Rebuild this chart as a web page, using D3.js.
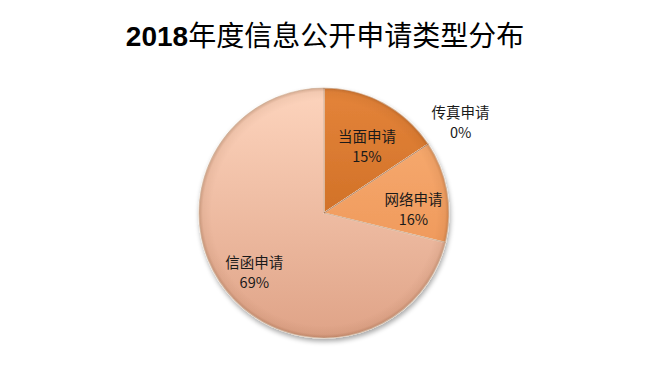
<!DOCTYPE html>
<html>

<head>
  <meta charset="utf-8">
  <title>2018年度信息公开申请类型分布</title>
  <style>
    body,
    html {
      margin: 0;
      padding: 0;
      background: #fff;
    }

    text {
      font-family: "Noto Sans CJK SC", "DejaVu Sans", sans-serif;
    }
  </style>
</head>

<body>

  <svg id="svg" width="650" height="378"></svg>

  <script src="https://d3js.org/d3.v7.min.js"></script>

  <script>
    // values; labels as printed on the chart
    const categories = ['当面申请', '传真申请', '网络申请', '信函申请']
    const values = [15.7, 0, 13.1, 71.2]
    const pctLabels = ['15%', '0%', '16%', '69%']

    const cx = 324
    const cy = 213
    const radius = 125

    // colour stops per slice: top, bottom
    const colors = [
      ['#e4843a', '#bf5f16'],
      ['#f0a060', '#d07a3a'],
      ['#f9b077', '#ea8d4c'],
      ['#fdd4bd', '#dfa387']
    ]
    // label radius (fraction of pie radius) and nudges
    const labelR = [0.64, 1.31, 0.71, 0.77]
    const labelNudge = [[5, 4], [0, 0], [2, 12], [6, 0]]

    const svg = d3.select('#svg')
    const defs = svg.append('defs')

    // gradients live in the pie group's coordinates (centre at 0,0)
    colors.forEach((c, i) => {
      const g = defs.append('linearGradient')
        .attr('id', 'grad' + i)
        .attr('gradientUnits', 'userSpaceOnUse')
        .attr('x1', 0).attr('y1', -radius)
        .attr('x2', 0).attr('y2', radius)
      g.append('stop').attr('offset', '0%').attr('stop-color', c[0])
      g.append('stop').attr('offset', '100%').attr('stop-color', c[1])
    })

    // soft rim shading
    const rim = defs.append('radialGradient')
      .attr('id', 'rim')
      .attr('gradientUnits', 'userSpaceOnUse')
      .attr('cx', 0).attr('cy', 0).attr('r', radius)
    rim.append('stop').attr('offset', '90%').attr('stop-color', '#5a2a08').attr('stop-opacity', 0)
    rim.append('stop').attr('offset', '97%').attr('stop-color', '#5a2a08').attr('stop-opacity', 0.06)
    rim.append('stop').attr('offset', '100%').attr('stop-color', '#5a2a08').attr('stop-opacity', 0.25)

    const shadow = defs.append('filter').attr('id', 'shadow')
      .attr('x', '-20%').attr('y', '-20%').attr('width', '140%').attr('height', '140%')
    shadow.append('feGaussianBlur').attr('in', 'SourceAlpha').attr('stdDeviation', 2.5)
    shadow.append('feOffset').attr('dx', 1).attr('dy', 3).attr('result', 'b')
    shadow.append('feComponentTransfer').append('feFuncA').attr('type', 'linear').attr('slope', 0.35)
    const merge = shadow.append('feMerge')
    merge.append('feMergeNode')
    merge.append('feMergeNode').attr('in', 'SourceGraphic')

    svg.append('text')
      .attr('x', 325)
      .attr('y', 46)
      .attr('text-anchor', 'middle')
      .attr('font-size', 28)
      .attr('fill', '#000')
      .call(t => {
        t.append('tspan').attr('font-weight', 'bold').attr('font-family', '"Liberation Sans", sans-serif').text('2018')
        t.append('tspan').text('年度信息公开申请类型分布')
      })

    const data = categories.map((name, i) => ({ name, value: values[i], label: pctLabels[i], i }))

    const pie = d3.pie()
      .sort(null)
      .value(d => d.value)

    const arcs = pie(data)

    const arc = d3.arc()
      .innerRadius(0)
      .outerRadius(radius)

    const graph = svg.append('g')
      .attr('transform', `translate(${cx}, ${cy})`)

    const slices = graph.append('g').attr('filter', 'url(#shadow)')

    slices.selectAll('path.slice')
      .data(arcs)
      .join('path')
      .attr('class', 'slice')
      .attr('d', arc)
      .attr('fill', d => `url(#grad${d.data.i})`)
      .attr('stroke', 'rgba(255,240,225,0.85)')
      .attr('stroke-width', 1.2)

    graph.append('circle')
      .attr('r', radius)
      .attr('fill', 'url(#rim)')

    // thin darker edges along the slice sides
    graph.selectAll('path.edge')
      .data(arcs)
      .join('path')
      .attr('class', 'edge')
      .attr('d', arc)
      .attr('fill', 'none')
      .attr('stroke', 'rgba(120,60,20,0.3)')
      .attr('stroke-width', 0.6)

    const labels = graph.selectAll('text.lbl')
      .data(arcs)
      .join('text')
      .attr('class', 'lbl')
      .attr('text-anchor', 'middle')
      .attr('font-size', 14.5)
      .attr('fill', '#1a1a1a')
      .attr('transform', d => {
        const r = radius * labelR[d.data.i]
        const c = d3.arc().innerRadius(r).outerRadius(r).centroid(d)
        const n = labelNudge[d.data.i]
        return `translate(${c[0] + n[0]}, ${c[1] + n[1]})`
      })

    labels.append('tspan')
      .attr('x', 0)
      .attr('dy', '-0.3em')
      .text(d => d.data.name)

    labels.append('tspan')
      .attr('x', 0)
      .attr('dy', '1.35em')
      .text(d => d.data.label)
  </script>

</body>

</html>
